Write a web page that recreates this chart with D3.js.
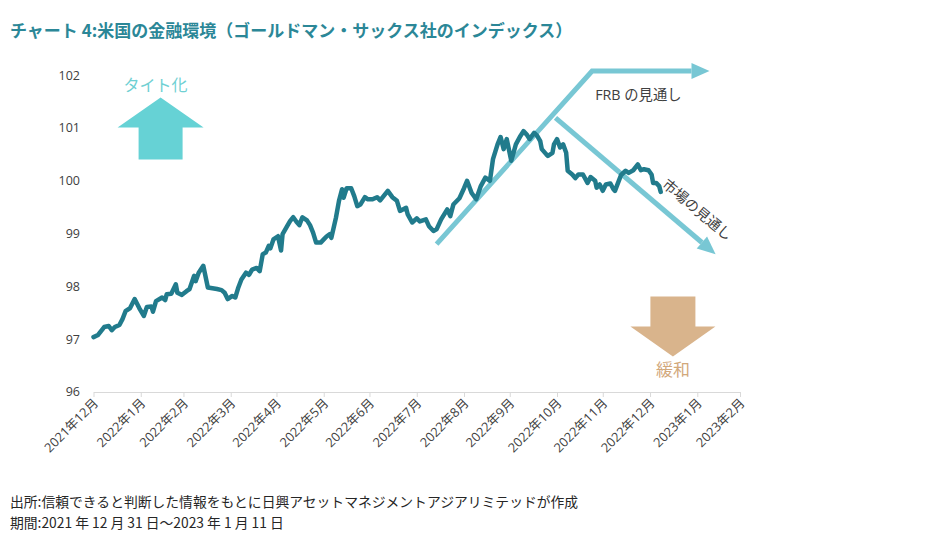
<!DOCTYPE html>
<html><head><meta charset="utf-8">
<script src="https://cdn.jsdelivr.net/npm/d3@7"></script>
<style>body{margin:0;background:#fff}svg{display:block}</style>
</head><body><svg id="c" width="932" height="544"></svg>
<script>
// ---- data ----
const dates = ["2021-12-31","2022-01-03","2022-01-07","2022-01-10","2022-01-12","2022-01-14","2022-01-17","2022-01-19","2022-01-21","2022-01-24","2022-01-27","2022-01-30","2022-02-02","2022-02-04","2022-02-07","2022-02-08","2022-02-10","2022-02-14","2022-02-16","2022-02-17","2022-02-20","2022-02-23","2022-02-24","2022-02-27","2022-03-02","2022-03-04","2022-03-07","2022-03-08","2022-03-10","2022-03-13","2022-03-16","2022-03-20","2022-03-22","2022-03-25","2022-03-27","2022-03-29","2022-04-01","2022-04-03","2022-04-05","2022-04-07","2022-04-10","2022-04-12","2022-04-14","2022-04-17","2022-04-19","2022-04-21","2022-04-23","2022-04-25","2022-04-26","2022-04-28","2022-05-01","2022-05-03","2022-05-04","2022-05-07","2022-05-09","2022-05-11","2022-05-13","2022-05-15","2022-05-17","2022-05-20","2022-05-22","2022-05-24","2022-05-26","2022-05-29","2022-05-31","2022-06-02","2022-06-04","2022-06-05","2022-06-08","2022-06-10","2022-06-12","2022-06-13","2022-06-15","2022-06-18","2022-06-20","2022-06-22","2022-06-24","2022-06-27","2022-06-29","2022-07-02","2022-07-05","2022-07-07","2022-07-12","2022-07-15","2022-07-18","2022-07-20","2022-07-24","2022-07-25","2022-07-28","2022-07-31","2022-08-02","2022-08-06","2022-08-08","2022-08-11","2022-08-13","2022-08-16","2022-08-20","2022-08-22","2022-08-24","2022-08-28","2022-08-31","2022-09-02","2022-09-05","2022-09-08","2022-09-11","2022-09-14","2022-09-17","2022-09-19","2022-09-22","2022-09-24","2022-09-26","2022-09-28","2022-10-01","2022-10-04","2022-10-07","2022-10-09","2022-10-11","2022-10-13","2022-10-16","2022-10-18","2022-10-20","2022-10-21","2022-10-24","2022-10-25","2022-10-28","2022-10-29","2022-10-31","2022-11-02","2022-11-04","2022-11-06","2022-11-07","2022-11-10","2022-11-12","2022-11-14","2022-11-17","2022-11-20","2022-11-22","2022-11-25","2022-11-26","2022-11-28","2022-11-30","2022-12-02","2022-12-05","2022-12-07","2022-12-08","2022-12-10","2022-12-12","2022-12-15","2022-12-17","2022-12-20","2022-12-23","2022-12-25","2022-12-27","2022-12-30","2023-01-01","2023-01-02","2023-01-04","2023-01-06","2023-01-07"];
const values = [97.04,97.08,97.23,97.25,97.17,97.23,97.27,97.38,97.53,97.59,97.76,97.59,97.44,97.61,97.62,97.52,97.72,97.79,97.74,97.85,97.86,98.04,97.88,97.84,97.91,97.95,98.20,98.10,98.26,98.39,97.98,97.96,97.95,97.93,97.88,97.76,97.82,97.79,97.98,98.13,98.26,98.22,98.32,98.35,98.29,98.61,98.64,98.77,98.72,98.89,98.95,98.68,98.99,99.14,99.24,99.31,99.23,99.16,99.31,99.25,99.16,99.02,98.83,98.83,98.89,98.95,98.99,98.92,99.30,99.62,99.84,99.68,99.86,99.86,99.71,99.52,99.55,99.69,99.65,99.65,99.69,99.63,99.81,99.69,99.62,99.43,99.49,99.37,99.21,99.29,99.23,99.27,99.14,99.05,99.08,99.27,99.46,99.33,99.55,99.67,99.86,100.00,99.77,99.65,99.90,100.06,100.00,100.41,100.69,100.83,100.60,100.79,100.38,100.69,100.85,100.94,100.88,100.79,100.91,100.85,100.75,100.60,100.50,100.47,100.53,100.69,100.79,100.63,100.69,100.53,100.19,100.12,100.05,100.12,100.12,99.96,100.07,100.00,99.87,99.93,99.81,99.93,99.95,99.84,99.81,99.96,100.11,100.19,100.15,100.20,100.31,100.20,100.22,100.20,100.12,99.96,99.96,99.90,99.79];
const yTicks = [96,97,98,99,100,101,102];
const tickDates = ["2021-12-31","2022-01-31","2022-02-28","2022-03-31","2022-04-30","2022-05-31","2022-06-30","2022-07-31","2022-08-31","2022-09-30","2022-10-31","2022-11-30","2022-12-31","2023-01-31","2023-02-28"];
const tickLabels = ["2021年12月","2022年1月","2022年2月","2022年3月","2022年4月","2022年5月","2022年6月","2022年7月","2022年8月","2022年9月","2022年10月","2022年11月","2022年12月","2023年1月","2023年2月"];
// annotation lines (data coordinates)
const frbDates = ["2022-08-13","2022-11-23","2023-02-08"];
const frbValues = [98.80,102.08,102.08];
const mktDates = ["2022-10-30","2023-02-12"];
const mktValues = [101.19,98.61];
const texts = {
  title: "チャート 4:米国の金融環境（ゴールドマン・サックス社のインデックス）",
  src: "出所:信頼できると判断した情報をもとに日興アセットマネジメントアジアリミテッドが作成",
  period: "期間:2021 年 12 月 31 日〜2023 年 1 月 11 日",
  frb: "FRB の見通し", mkt: "市場の見通し", tight: "タイト化", ease: "緩和"
};

// ---- drawing ----
const parse = d3.timeParse("%Y-%m-%d");
const svg = d3.select("#c");
const x = d3.scaleTime().domain([parse("2021-12-31"), parse("2023-02-28")]).range([93.5, 740]);
const y = d3.scaleLinear().domain([96, 102]).range([392, 75.2]);
const JP = "'Noto Sans CJK JP','Noto Sans',sans-serif";
const NUM = "'Open Sans','Noto Sans CJK JP',sans-serif";

svg.append("text").attr("x", 10).attr("y", 37).text(texts.title)
  .attr("font-family", JP).attr("font-weight", "bold").attr("font-size", 17).attr("fill", "#2b8797");

// y labels
svg.append("g").selectAll("text").data(yTicks).join("text")
  .attr("x", 80).attr("y", d => y(d)).attr("dy", "0.35em").attr("text-anchor", "end")
  .attr("font-family", NUM).attr("font-size", 12.5).attr("fill", "#404040").text(d => d);

// x axis
const xa = svg.append("g").attr("transform", "translate(0,392)")
  .call(d3.axisBottom(x).tickValues(tickDates.map(parse)).tickFormat((d, i) => tickLabels[i]).tickSize(5).tickSizeOuter(0));
xa.select(".domain").attr("stroke", "#d9d9d9");
xa.selectAll(".tick line").attr("stroke", "#d9d9d9");
xa.selectAll(".tick text").attr("x", 0).attr("y", 0).attr("dy", 0)
  .attr("transform", "translate(5,12) rotate(-45)").attr("text-anchor", "end")
  .attr("font-family", NUM).attr("font-size", 12.8).attr("fill", "#404040");

// annotation arrows
const ACOL = "#78c7d4";
function arrowLine(ds, vs) {
  const pts = ds.map((d, i) => [x(parse(d)), y(vs[i])]);
  const n = pts.length, a = pts[n - 2], b = pts[n - 1];
  const ang = Math.atan2(b[1] - a[1], b[0] - a[0]);
  const L = 18, W = 8;
  const base = [b[0] - L * Math.cos(ang), b[1] - L * Math.sin(ang)];
  const linePts = pts.slice(0, n - 1).concat([base]);
  svg.append("path").attr("d", d3.line()(linePts)).attr("fill", "none")
    .attr("stroke", ACOL).attr("stroke-width", 5).attr("stroke-linejoin", "miter");
  const px = -Math.sin(ang), py = Math.cos(ang);
  svg.append("path").attr("d", d3.line()([b, [base[0] + W * px, base[1] + W * py], [base[0] - W * px, base[1] - W * py]]) + "Z")
    .attr("fill", ACOL);
}
arrowLine(frbDates, frbValues);
arrowLine(mktDates, mktValues);

svg.append("text").attr("x", x(parse("2022-11-25"))).attr("y", y(101.53)).text(texts.frb)
  .attr("font-family", NUM).attr("font-size", 14.3).attr("fill", "#404040");
svg.append("text").attr("transform", `translate(${x(parse("2023-01-31"))},${y(99.45)}) rotate(40)`)
  .attr("text-anchor", "middle").attr("dy", "0.35em").text(texts.mkt)
  .attr("font-family", JP).attr("font-size", 14.3).attr("fill", "#404040");

// block arrows
function blockArrow(cx, tipY, dir, headHW, headH, shaftHW, shaftH, col) {
  const s = dir; // -1 up, +1 down
  const hb = tipY - s * headH, sb = hb - s * shaftH;
  const p = [[cx, tipY], [cx + headHW, hb], [cx + shaftHW, hb], [cx + shaftHW, sb], [cx - shaftHW, sb], [cx - shaftHW, hb], [cx - headHW, hb]];
  svg.append("path").attr("d", d3.line()(p) + "Z").attr("fill", col);
}
const upX = x(parse("2022-02-13")), upTip = y(101.58);
blockArrow(upX, upTip, -1, 43, 30, 22, 32, "#66d2d5");
svg.append("text").attr("x", upX - 5).attr("y", upTip - 6).attr("text-anchor", "middle").text(texts.tight)
  .attr("font-family", JP).attr("font-size", 16).attr("fill", "#6fd0d3");
const dnX = x(parse("2023-01-15")), dnTip = y(96.67);
blockArrow(dnX, dnTip, 1, 42.5, 30, 22.5, 30, "#d9b48c");
svg.append("text").attr("x", dnX).attr("y", dnTip + 19).attr("text-anchor", "middle").text(texts.ease)
  .attr("font-family", JP).attr("font-size", 17).attr("fill", "#d2a87b");

// main line
const data = dates.map((d, i) => ({ d: parse(d), v: values[i] }));
svg.append("path").datum(data)
  .attr("d", d3.line().x(p => x(p.d)).y(p => y(p.v)))
  .attr("fill", "none").attr("stroke", "#217b8c").attr("stroke-width", 4.5)
  .attr("stroke-linejoin", "round").attr("stroke-linecap", "round");

// footnotes
svg.append("text").attr("x", 10).attr("y", 507).text(texts.src)
  .attr("font-family", JP).attr("font-size", 13.8).attr("fill", "#262626");
svg.append("text").attr("x", 10).attr("y", 528).text(texts.period)
  .attr("font-family", JP).attr("font-size", 13.8).attr("fill", "#262626");
</script></body></html>
